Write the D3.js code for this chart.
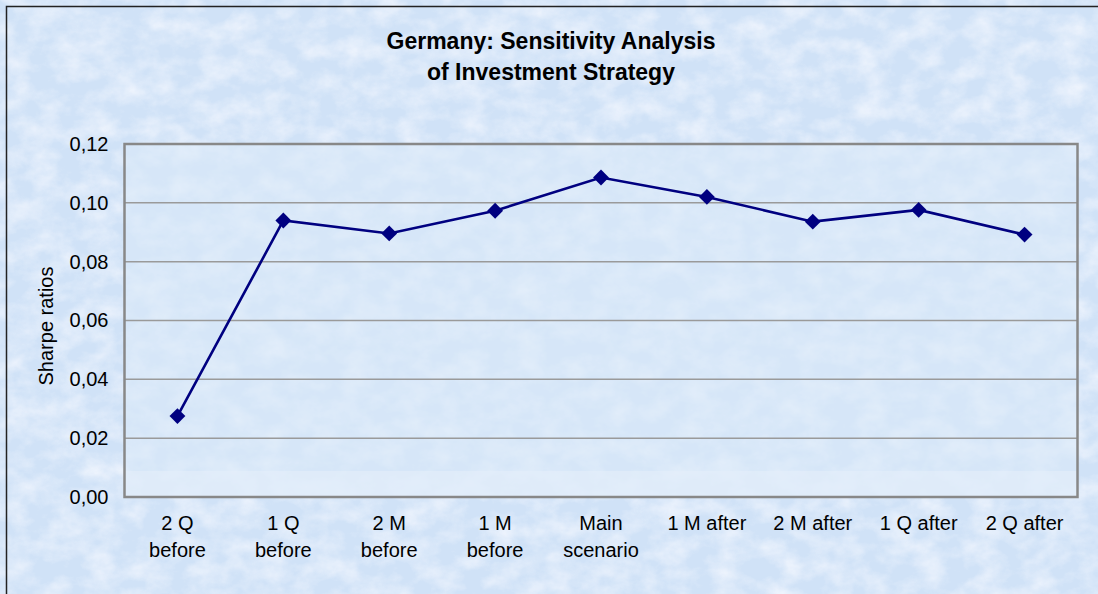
<!DOCTYPE html>
<html><head><meta charset="utf-8">
<script src="https://cdn.jsdelivr.net/npm/d3@7"></script>
<style>html,body{margin:0;padding:0;background:#d6e6f8;overflow:hidden}</style>
</head><body>
<script>
const categories = [["2 Q","before"],["1 Q","before"],["2 M","before"],["1 M","before"],["Main","scenario"],["1 M after"],["2 M after"],["1 Q after"],["2 Q after"]];
const sharpeRatios = [0.0275, 0.0940, 0.0896, 0.0973, 0.1086, 0.1020, 0.0936, 0.0976, 0.0892];
const yTicks = [0, 0.02, 0.04, 0.06, 0.08, 0.10, 0.12];
const titleLines = ["Germany: Sensitivity Analysis", "of Investment Strategy"];
const yTitle = "Sharpe ratios";

const W = 1098, H = 594;
const FONT = "Liberation Sans, Arial, sans-serif";
const svg = d3.select("body").append("svg").attr("width", W).attr("height", H);
const defs = svg.append("defs");
const f = defs.append("filter").attr("id","tex").attr("x",0).attr("y",0).attr("width","100%").attr("height","100%");
f.append("feTurbulence").attr("type","fractalNoise").attr("baseFrequency","0.035 0.05").attr("numOctaves",4).attr("seed",7).attr("result","n");
f.append("feColorMatrix").attr("in","n").attr("type","matrix")
 .attr("values","0 0 0 0 0.93  0 0 0 0 0.95  0 0 0 0 1  0 0 0 1.6 -0.55");
// background
svg.append("rect").attr("width",W).attr("height",H).attr("fill","#d0e2f7");
svg.append("rect").attr("width",W).attr("height",H).attr("filter","url(#tex)").attr("opacity",0.8);
// outer frame (left/top visible)
svg.append("path").attr("d","M6.5,594 V6.5 H1098").attr("fill","none").attr("stroke","#222").attr("stroke-width",1.5);

const m = {l:124.5, t:144, r:1077.5, b:497};
const x = d3.scaleBand().domain(d3.range(categories.length)).range([m.l, m.r]);
const y = d3.scaleLinear().domain([0, 0.12]).range([m.b, m.t]);

// plot area
svg.append("rect").attr("x",m.l).attr("y",m.t).attr("width",m.r-m.l).attr("height",m.b-m.t).attr("fill","#dbe9f9").attr("opacity",0.6);
svg.append("rect").attr("x",m.l).attr("y",471).attr("width",m.r-m.l).attr("height",m.b-471).attr("fill","#e4eefa").attr("opacity",0.6);

// gridlines
svg.append("g").selectAll("line").data(yTicks.slice(1,-1)).join("line")
  .attr("x1",m.l).attr("x2",m.r).attr("y1",d=>y(d)).attr("y2",d=>y(d))
  .attr("stroke","#9a9a9a").attr("stroke-width",1.5);
svg.append("rect").attr("x",m.l).attr("y",m.t).attr("width",m.r-m.l).attr("height",m.b-m.t)
  .attr("fill","none").attr("stroke","#888").attr("stroke-width",2.5);

// y axis labels
const fmt = d => d3.format(".2f")(d).replace(".", ",");
const yAxis = d3.axisLeft(y).tickValues(yTicks).tickFormat(fmt).tickSize(0).tickPadding(16);
const ya = svg.append("g").attr("transform",`translate(${m.l},0)`).call(yAxis);
ya.select(".domain").remove();
ya.selectAll("text").attr("font-family",FONT).attr("font-size",20).attr("fill","#000");

// x axis labels
const xa = svg.append("g");
xa.selectAll("text").data(categories).join("text")
  .attr("x",(d,i)=>x(i)+x.bandwidth()/2).attr("y",530)
  .attr("text-anchor","middle").attr("font-family",FONT).attr("font-size",20).attr("fill","#000")
  .each(function(d){
    const t = d3.select(this);
    d.forEach((s,k)=>t.append("tspan").attr("x",t.attr("x")).attr("dy",k===0?0:27).text(s));
  });

// line
const line = d3.line().x((d,i)=>x(i)+x.bandwidth()/2).y(d=>y(d));
svg.append("path").datum(sharpeRatios).attr("d",line).attr("fill","none").attr("stroke","#000080").attr("stroke-width",2.6);
svg.append("g").selectAll("path").data(sharpeRatios).join("path")
  .attr("d",d3.symbol().type(d3.symbolDiamond2).size(160))
  .attr("transform",(d,i)=>`translate(${x(i)+x.bandwidth()/2},${y(d)})`)
  .attr("fill","#000080");

// titles
svg.append("g").selectAll("text").data(titleLines).join("text")
  .attr("x",551).attr("y",(d,i)=>49+i*31).attr("text-anchor","middle")
  .attr("font-family",FONT).attr("font-weight","bold").attr("font-size",23).attr("fill","#000")
  .text(d=>d);
svg.append("text").attr("transform","translate(53,326) rotate(-90)").attr("text-anchor","middle")
  .attr("font-family",FONT).attr("font-size",20).attr("fill","#000").text(yTitle);
</script>
</body></html>
